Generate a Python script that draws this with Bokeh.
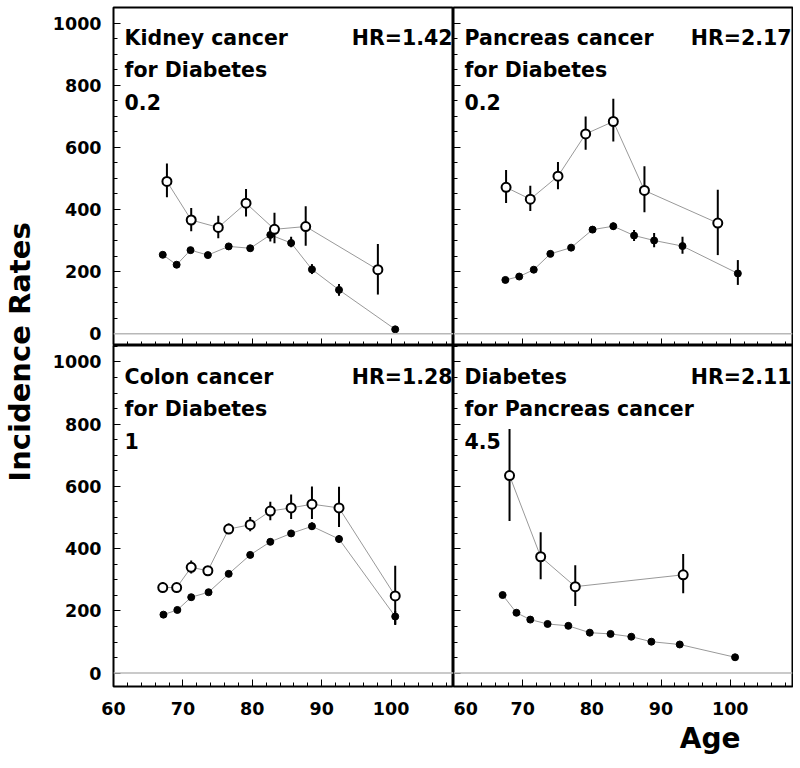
import math
from bokeh.plotting import figure
from bokeh.layouts import row, column
from bokeh.models import Span, SingleIntervalTicker, Range1d, Title
from bokeh.core.properties import value
from bokeh.embed import file_html
from bokeh.resources import INLINE

FONT = "DejaVu Sans"

# ---------------- data ----------------
# Kidney cancer for Diabetes
kidney_open_age = [67.7, 71.2, 75.1, 79.1, 83.2, 87.7, 98.1]
kidney_open_rate = [490, 366, 342, 420, 336, 345, 206]
kidney_open_lo = [439, 330, 307, 377, 291, 283, 126]
kidney_open_hi = [548, 405, 380, 466, 389, 410, 289]
kidney_fill_age = [67.1, 69.1, 71.1, 73.6, 76.6, 79.7, 82.6, 85.6, 88.6, 92.5, 100.6]
kidney_fill_rate = [254, 222, 269, 253, 281, 275, 318, 292, 207, 141, 14]
kidney_fill_lo = [248, 216, 262, 246, 274, 268, 297, 278, 192, 122, 6]
kidney_fill_hi = [260, 228, 276, 260, 288, 282, 333, 312, 224, 160, 22]

# Pancreas cancer for Diabetes
pancreas_open_age = [67.6, 71.1, 75.1, 79.1, 83.1, 87.6, 98.2]
pancreas_open_rate = [471, 433, 507, 643, 683, 461, 356]
pancreas_open_lo = [421, 395, 465, 592, 619, 391, 253]
pancreas_open_hi = [527, 476, 553, 699, 756, 539, 463]
pancreas_fill_age = [67.5, 69.5, 71.6, 74.0, 77.0, 80.1, 83.1, 86.1, 89.0, 93.1, 101.1]
pancreas_fill_rate = [173, 184, 206, 257, 277, 335, 346, 316, 300, 282, 194]
pancreas_fill_lo = [166, 177, 198, 249, 268, 325, 334, 298, 278, 257, 157]
pancreas_fill_hi = [180, 191, 214, 265, 286, 345, 358, 334, 324, 312, 237]

# Colon cancer for Diabetes
colon_open_age = [67.1, 69.1, 71.2, 73.6, 76.6, 79.7, 82.6, 85.6, 88.6, 92.5, 100.6]
colon_open_rate = [275, 275, 340, 329, 463, 477, 521, 531, 543, 531, 248]
colon_open_lo = [262, 263, 320, 316, 447, 456, 491, 495, 495, 470, 155]
colon_open_hi = [292, 288, 362, 342, 481, 502, 551, 574, 600, 599, 345]
colon_fill_age = [67.2, 69.2, 71.2, 73.7, 76.6, 79.7, 82.6, 85.6, 88.6, 92.5, 100.6]
colon_fill_rate = [188, 203, 244, 260, 319, 380, 422, 449, 472, 431, 182]
colon_fill_lo = [182, 197, 237, 253, 311, 371, 412, 438, 460, 419, 157]
colon_fill_hi = [194, 209, 251, 267, 327, 389, 432, 460, 484, 443, 200]

# Diabetes for Pancreas cancer
diab_open_age = [68.1, 72.6, 77.6, 93.2]
diab_open_rate = [635, 374, 278, 316]
diab_open_lo = [489, 302, 216, 257]
diab_open_hi = [785, 453, 347, 383]
diab_fill_age = [67.1, 69.1, 71.1, 73.6, 76.6, 79.7, 82.7, 85.7, 88.6, 92.7, 100.7]
diab_fill_rate = [251, 194, 172, 158, 152, 130, 126, 117, 101, 92, 51]
diab_fill_lo = [245, 188, 166, 152, 146, 124, 120, 111, 95, 86, 45]
diab_fill_hi = [257, 200, 178, 164, 158, 136, 132, 123, 107, 98, 57]

panel_titles = [
    ["Kidney cancer", "for Diabetes", "0.2"],
    ["Pancreas cancer", "for Diabetes", "0.2"],
    ["Colon cancer", "for Diabetes", "1"],
    ["Diabetes", "for Pancreas cancer", "4.5"],
]
panel_hr = ["HR=1.42", "HR=2.17", "HR=1.28", "HR=2.11"]

x_label = "Age"
y_label = "Incidence Rates"

# ---------------- helpers ----------------
def make_panel(idx, open_s, fill_s, fw, fh, yr, show_xlab, show_ylab, borders):
    bl, br, bt, bb = borders
    p = figure(frame_width=fw, frame_height=fh,
               x_range=Range1d(60, 109), y_range=Range1d(*yr),
               output_backend="svg", toolbar_location=None,
               min_border_left=bl, min_border_right=br,
               min_border_top=bt, min_border_bottom=bb)
    p.xgrid.visible = False
    p.ygrid.visible = False
    p.outline_line_color = "black"
    p.outline_line_width = 2
    p.outline_line_alpha = 1.0
    p.background_fill_color = "white"
    p.border_fill_color = "white"

    p.xaxis.ticker = SingleIntervalTicker(interval=10, num_minor_ticks=5)
    p.yaxis.ticker = SingleIntervalTicker(interval=200, num_minor_ticks=4)
    for ax in p.axis:
        ax.axis_line_color = None
        ax.major_tick_in = 7
        ax.major_tick_out = 0
        ax.minor_tick_in = 4
        ax.minor_tick_out = 0
        ax.major_tick_line_color = "black"
        ax.minor_tick_line_color = "black"
        ax.major_label_text_font = FONT
        ax.major_label_text_font_style = "bold"
        ax.major_label_text_font_size = "17.5px"
        ax.major_label_text_color = "black"
        ax.major_label_standoff = 12
        ax.axis_label_standoff = 0
    p.xaxis.major_label_standoff = 15
    if not show_xlab:
        p.xaxis.major_label_text_font_size = "0px"
        p.xaxis.major_label_text_color = None
        p.xaxis.major_label_standoff = 0
    if not show_ylab:
        p.yaxis.major_label_text_font_size = "0px"
        p.yaxis.major_label_text_color = None
        p.yaxis.major_label_standoff = 0

    p.add_layout(Span(location=0, dimension="width", line_color="#b8b8b8", line_width=1.5))

    oa, orr, olo, ohi = open_s
    fa, fr, flo, fhi = fill_s
    p.line(oa, orr, line_color="#999999", line_width=1)
    p.line(fa, fr, line_color="#999999", line_width=1)
    p.segment(x0=fa, y0=flo, x1=fa, y1=fhi, line_color="black", line_width=2)
    p.segment(x0=oa, y0=olo, x1=oa, y1=ohi, line_color="black", line_width=2)
    p.scatter(fa, fr, marker="circle", size=7, fill_color="black", line_color="black", line_width=1)
    p.scatter(oa, orr, marker="circle", size=9, fill_color="white", line_color="black", line_width=2)

    p.text(x=[61.6, 61.6, 61.6], y=[953, 849, 746], text=panel_titles[idx],
           text_font=value(FONT), text_font_style="bold", text_font_size="20.5px",
           text_align="left", text_baseline="alphabetic", text_color="black")
    p.text(x=[108.85], y=[953], text=[panel_hr[idx]],
           text_font=value(FONT), text_font_style="bold", text_font_size="20.5px",
           text_align="right", text_baseline="alphabetic", text_color="black")
    return p

TOP_Y = (-38, 1050)
BOT_Y = (-43, 1053)

tl = make_panel(0, (kidney_open_age, kidney_open_rate, kidney_open_lo, kidney_open_hi),
                (kidney_fill_age, kidney_fill_rate, kidney_fill_lo, kidney_fill_hi),
                340, 338, TOP_Y, False, True, (65, 0, 7, 0))
tr = make_panel(1, (pancreas_open_age, pancreas_open_rate, pancreas_open_lo, pancreas_open_hi),
                (pancreas_fill_age, pancreas_fill_rate, pancreas_fill_lo, pancreas_fill_hi),
                339, 338, TOP_Y, False, False, (0, 1, 7, 0))
bl = make_panel(2, (colon_open_age, colon_open_rate, colon_open_lo, colon_open_hi),
                (colon_fill_age, colon_fill_rate, colon_fill_lo, colon_fill_hi),
                340, 341, BOT_Y, True, True, (65, 0, 0, 0))
br = make_panel(3, (diab_open_age, diab_open_rate, diab_open_lo, diab_open_hi),
                (diab_fill_age, diab_fill_rate, diab_fill_lo, diab_fill_hi),
                339, 341, BOT_Y, True, False, (0, 1, 0, 0))

# x-axis title, right part of the lower-right panel
br.add_layout(Title(text=x_label, align="right", offset=52, standoff=5,
                    text_font=FONT, text_font_style="bold", text_font_size="28px",
                    text_color="black"), "below")

# strip at the left holding the y-axis title
LAB_W, LAB_H = 48, 700
lab = figure(width=LAB_W, height=LAB_H, x_range=Range1d(0, LAB_W), y_range=Range1d(0, LAB_H),
             output_backend="svg", toolbar_location=None,
             x_axis_type=None, y_axis_type=None,
             min_border_left=0, min_border_right=0, min_border_top=0, min_border_bottom=0)
lab.xgrid.visible = False
lab.ygrid.visible = False
lab.outline_line_color = None
lab.background_fill_color = "white"
lab.border_fill_color = "white"
lab.text(x=[19], y=[LAB_H - 351.5], text=[y_label], angle=math.pi / 2,
         text_font=value(FONT), text_font_style="bold", text_font_size="29px",
         text_align="center", text_baseline="middle", text_color="black")

layout = row(lab, column(row(tl, tr), row(bl, br)))

open("out.html", "w").write(file_html(layout, INLINE))
